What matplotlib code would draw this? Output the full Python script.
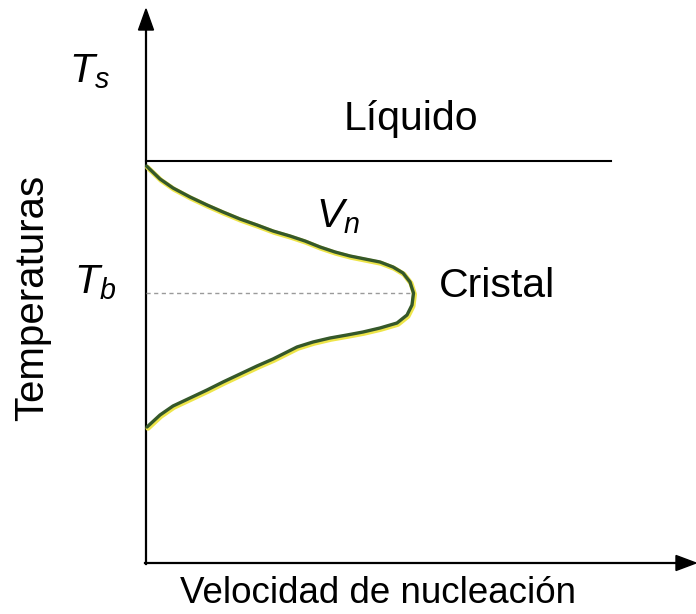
import numpy as np
import matplotlib.pyplot as plt
from matplotlib import font_manager
from matplotlib.patches import FancyArrow

plt.rcParams['font.family'] = ['Liberation Sans', 'DejaVu Sans']
plt.rcParams['mathtext.fontset'] = 'custom'
plt.rcParams['mathtext.it'] = 'Liberation Sans:italic'
plt.rcParams['mathtext.rm'] = 'Liberation Sans'

# nucleation-rate curve (x = rate, y = temperature), screen units, y grows downward
rate = [146.5, 160, 173, 190, 207, 223, 240, 257, 273, 290, 305, 320, 335, 350, 365, 380,
        393, 403, 410, 413.5, 412, 407, 397, 380, 363, 347, 330, 313, 297, 285, 273, 257,
        240, 223, 207, 190, 173, 160, 147]
temp = [166, 179, 188, 197, 205, 212, 219, 225, 231, 236, 241, 247, 252, 256, 259, 262,
        267, 273, 282, 293, 305, 315, 323, 328, 332, 335, 338, 342, 347, 353, 359, 366,
        374, 382, 390, 398, 406, 415, 427]

T_s_level = 161   # liquidus line
T_b_level = 293   # temperature of maximum rate
origin_x, origin_y = 146, 563

families = {f.name for f in font_manager.fontManager.ttflist}
narrow = 'Liberation Sans Narrow' in families

fig = plt.figure(figsize=(6.96, 6.14), dpi=100)
ax = fig.add_axes([0, 0, 1, 1])
ax.set_xlim(0, 696)
ax.set_ylim(614, 0)
ax.axis('off')

# axes with arrows
ax.plot([origin_x, origin_x], [origin_y + 0.7, 25], color='black', lw=1.6)
ax.plot([origin_x - 0.7, 682], [origin_y, origin_y], color='black', lw=1.6)
ax.add_patch(FancyArrow(origin_x, 30, 0, -21, width=0.01, head_width=15, head_length=21,
                        length_includes_head=True, color='black'))
ax.add_patch(FancyArrow(676, origin_y, 20, 0, width=0.01, head_width=15, head_length=20,
                        length_includes_head=True, color='black'))

ax.plot([origin_x, 611], [T_s_level, T_s_level], color='black', lw=1.5)
ax.plot([origin_x, 413], [T_b_level, T_b_level], color='#9a9a9a', lw=1.0, ls=(0, (3, 2.5)))

r = np.array(rate)
t = np.array(temp)
ax.plot(r + 1.0, t + 1.3, color='#eee54a', lw=3.6, solid_joinstyle='round',
        solid_capstyle='round')
ax.plot(r, t, color='#35582a', lw=2.4, solid_joinstyle='round', solid_capstyle='round')

fs = 29.5
ax.text(69, 82, r'$T_s$', fontsize=fs, ha='left', va='baseline')
ax.text(74, 293, r'$T_b$', fontsize=fs, ha='left', va='baseline')
ax.text(316, 227, r'$V_n$', fontsize=fs, ha='left', va='baseline')
ax.text(344, 130, 'Líquido', fontsize=fs, ha='left', va='baseline')
ax.text(439, 297, 'Cristal', fontsize=fs, ha='left', va='baseline')
ax.text(43, 421, 'Temperaturas', fontsize=29, ha='left', va='baseline', rotation=90,
        rotation_mode='anchor')
if narrow:
    ax.text(180, 603, 'Velocidad de nucleación', fontsize=31, ha='left', va='baseline',
            family=['Liberation Sans Narrow', 'DejaVu Sans'])
else:
    ax.text(180, 603, 'Velocidad de nucleación', fontsize=26.5, ha='left', va='baseline')

fig.savefig('out.png', dpi=100)
